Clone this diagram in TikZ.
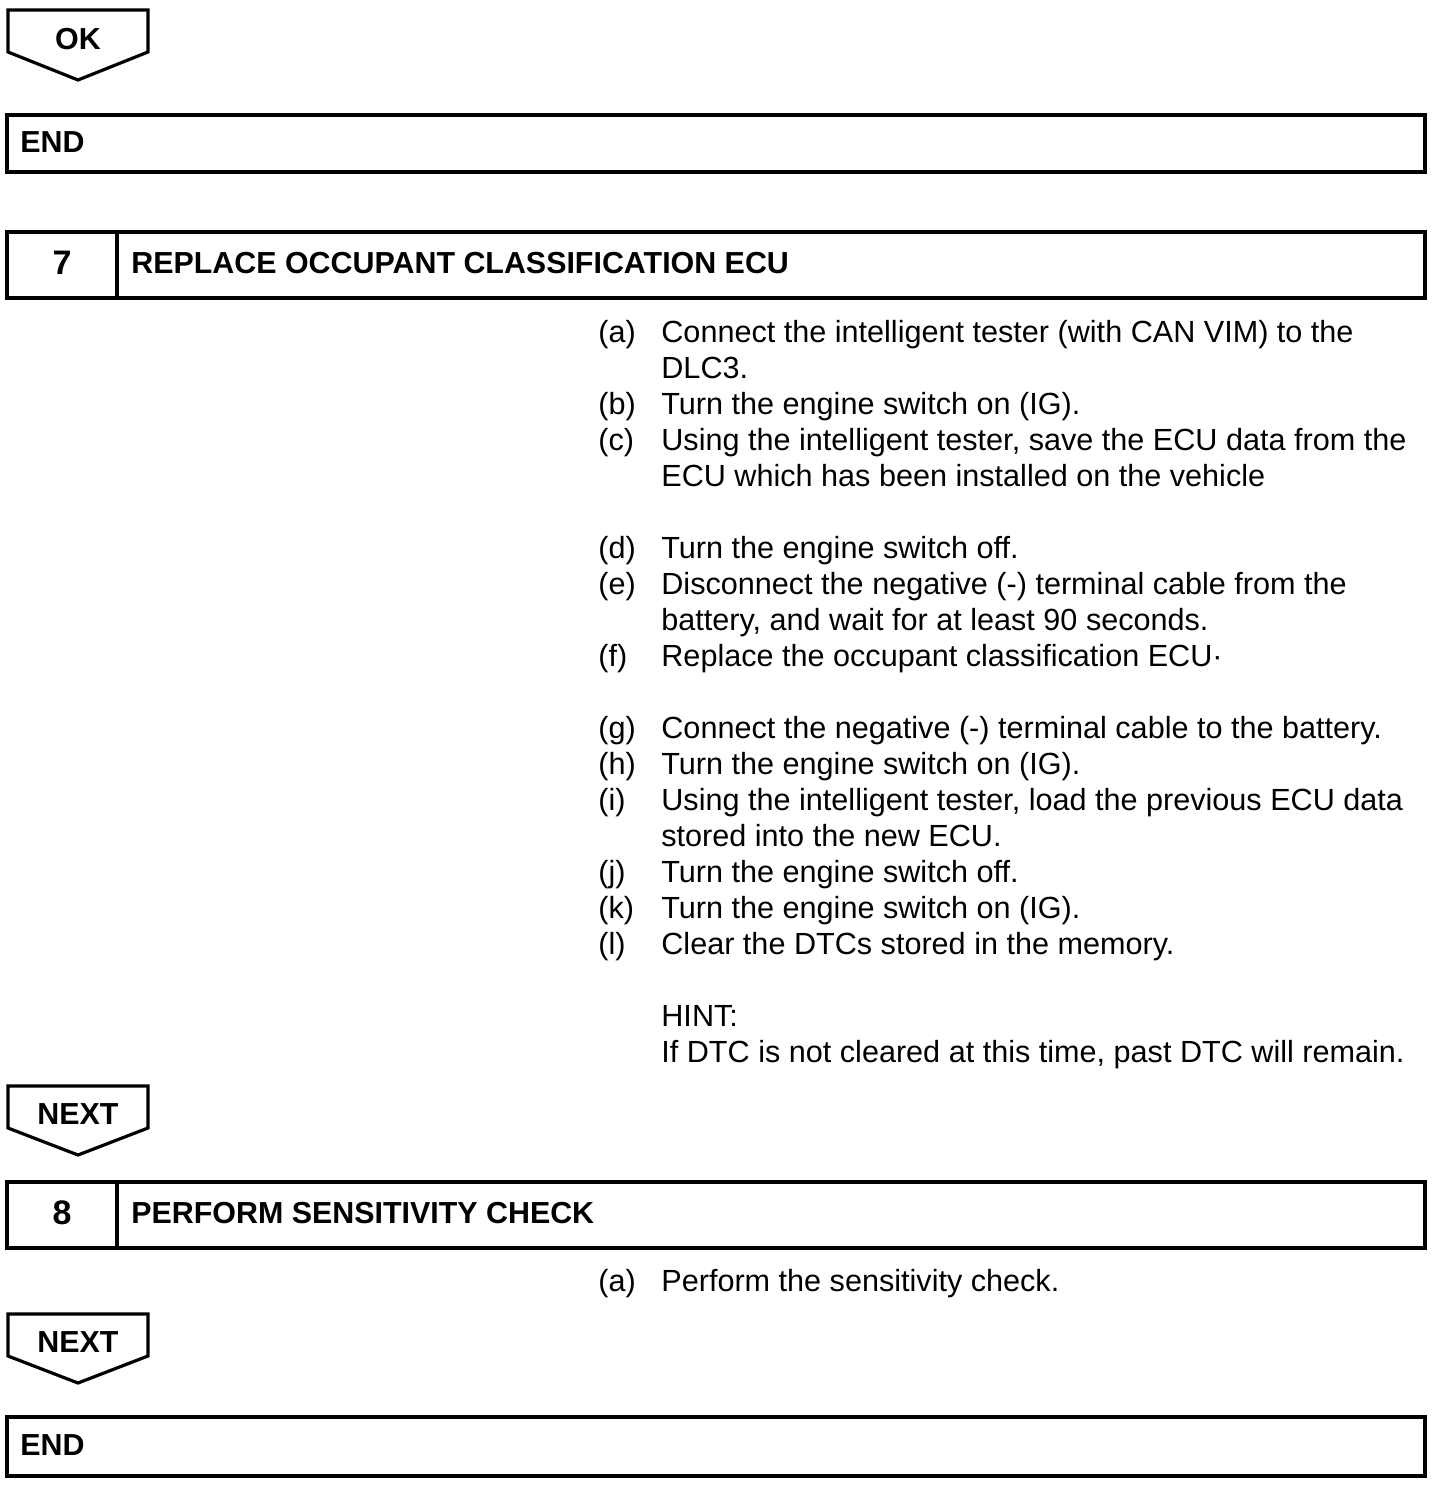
\documentclass[tikz,border=0pt]{standalone}
\usepackage{fontspec}
\setmainfont{Liberation Sans}
\tikzset{
  boxline/.style={line width=1.75pt, line join=miter},
  tagline/.style={line width=1.6pt, line join=miter},
  txt/.style={anchor=base west, inner sep=0pt, font=\fontsize{15.3}{18}\selectfont},
  btxt/.style={anchor=base west, inner sep=0pt, font=\fontsize{15.2}{18}\selectfont\bfseries},
  ctxt/.style={anchor=base, inner sep=0pt, font=\fontsize{15.2}{18}\selectfont\bfseries},
  numtxt/.style={anchor=base, inner sep=0pt, font=\fontsize{17}{20}\selectfont\bfseries},
}
\begin{document}
\begin{tikzpicture}[x=0.5pt,y=-0.5pt]
\useasboundingbox[fill=white] (0,0) rectangle (1456,1506);

% OK tag
\draw[tagline] (8,10) -- (148,10) -- (148,52) -- (78,80) -- (8,52) -- cycle;
\node[ctxt] (ok) at (78,49) {OK};

% END 1
\draw[boxline] (7,115) rectangle (1425,172);
\node[btxt] (end1) at (20,152) {END};

% Step 7
\draw[boxline] (7,232) rectangle (1425,298);
\draw[boxline] (117,232) -- (117,298);
\node[numtxt] (n7) at (62,274) {7};
\node[btxt] (t7) at (131,273) {REPLACE OCCUPANT CLASSIFICATION ECU};

\node[txt] (la) at (598,342) {(a)};
\node[txt] (ta) at (661,342) {Connect the intelligent tester (with CAN VIM) to the};
\node[txt] (ta2) at (661,378) {DLC3.};
\node[txt] (lb) at (598,414) {(b)};
\node[txt] (tb) at (661,414) {Turn the engine switch on (IG).};
\node[txt] (lc) at (598,450) {(c)};
\node[txt] (tc) at (661,450) {Using the intelligent tester, save the ECU data from the};
\node[txt] (tc2) at (661,486) {ECU which has been installed on the vehicle};
\node[txt] (ld) at (598,558) {(d)};
\node[txt] (td) at (661,558) {Turn the engine switch off.};
\node[txt] (le) at (598,594) {(e)};
\node[txt] (te) at (661,594) {Disconnect the negative (-) terminal cable from the};
\node[txt] (te2) at (661,630) {battery, and wait for at least 90 seconds.};
\node[txt] (lf) at (598,666) {(f)};
\node[txt] (tf) at (661,666) {Replace the occupant classification ECU·};
\node[txt] (lg) at (598,738) {(g)};
\node[txt] (tg) at (661,738) {Connect the negative (-) terminal cable to the battery.};
\node[txt] (lh) at (598,774) {(h)};
\node[txt] (th) at (661,774) {Turn the engine switch on (IG).};
\node[txt] (li) at (598,810) {(i)};
\node[txt] (ti) at (661,810) {Using the intelligent tester, load the previous ECU data};
\node[txt] (ti2) at (661,846) {stored into the new ECU.};
\node[txt] (lj) at (598,882) {(j)};
\node[txt] (tj) at (661,882) {Turn the engine switch off.};
\node[txt] (lk) at (598,918) {(k)};
\node[txt] (tk) at (661,918) {Turn the engine switch on (IG).};
\node[txt] (ll) at (598,954) {(l)};
\node[txt] (tl) at (661,954) {Clear the DTCs stored in the memory.};
\node[txt] (hint) at (661,1026) {HINT:};
\node[txt] (hint2) at (661,1062) {If DTC is not cleared at this time, past DTC will remain.};

% NEXT 1
\draw[tagline] (8,1086) -- (148,1086) -- (148,1128) -- (78,1155) -- (8,1128) -- cycle;
\node[ctxt] (next1) at (78,1124) {NEXT};

% Step 8
\draw[boxline] (7,1182) rectangle (1425,1248);
\draw[boxline] (117,1182) -- (117,1248);
\node[numtxt] (n8) at (62,1224) {8};
\node[btxt] (t8) at (131,1223) {PERFORM SENSITIVITY CHECK};
\node[txt] (l8a) at (598,1291) {(a)};
\node[txt] (t8a) at (661,1291) {Perform the sensitivity check.};

% NEXT 2
\draw[tagline] (8,1314) -- (148,1314) -- (148,1356) -- (78,1383) -- (8,1356) -- cycle;
\node[ctxt] (next2) at (78,1352) {NEXT};

% END 2
\draw[boxline] (7,1417) rectangle (1425,1476);
\node[btxt] (end2) at (20,1455) {END};
\end{tikzpicture}
\end{document}
